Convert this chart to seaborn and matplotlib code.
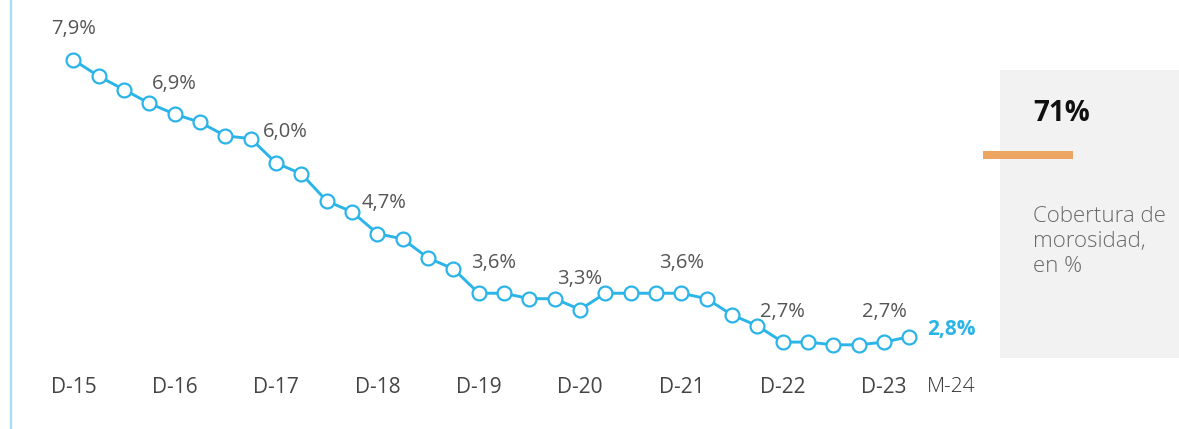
import matplotlib
matplotlib.use("Agg")
import matplotlib.pyplot as plt
import matplotlib.transforms as mtransforms
from matplotlib.patches import Rectangle
from matplotlib.lines import Line2D
import seaborn as sns
import pandas as pd

# ---------------------------------------------------------------------------
# Data: ratio de morosidad (%), quarterly D-15 .. M-24
# ---------------------------------------------------------------------------
quarters = [
    "D-15", "M-16", "J-16", "S-16", "D-16", "M-17", "J-17", "S-17",
    "D-17", "M-18", "J-18", "S-18", "D-18", "M-19", "J-19", "S-19",
    "D-19", "M-20", "J-20", "S-20", "D-20", "M-21", "J-21", "S-21",
    "D-21", "M-22", "J-22", "S-22", "D-22", "M-23", "J-23", "S-23",
    "D-23", "M-24",
]
npl_ratio = [
    7.9, 7.6, 7.35, 7.1, 6.9, 6.75, 6.5, 6.45,
    6.0, 5.8, 5.3, 5.1, 4.7, 4.6, 4.25, 4.05,
    3.6, 3.6, 3.5, 3.5, 3.3, 3.6, 3.6, 3.6,
    3.6, 3.5, 3.2, 3.0, 2.7, 2.7, 2.65, 2.65,
    2.7, 2.8,
]
tick_labels = ["D-15", "D-16", "D-17", "D-18", "D-19", "D-20", "D-21", "D-22", "D-23", "M-24"]
coverage_value = "71%"
coverage_text = "Cobertura de\nmorosidad,\nen %"

BLUE = "#2BB4E8"
GREY_TXT = "#555555"


def fmt_pct(v):
    return f"{v:.1f}".replace(".", ",") + "%"


df = pd.DataFrame({"quarter": quarters, "ratio": npl_ratio})
df["pos"] = range(len(df))

sns.set_style("white")
plt.rcParams["font.family"] = ["Open Sans", "DejaVu Sans"]

W, H = 1179, 429
fig = plt.figure(figsize=(W / 100, H / 100), dpi=100)
# axes placed in pixel space: x 40..1000, y 10..360
ax = fig.add_axes([40 / W, 1 - 360 / H, 960 / W, 350 / H])

sns.lineplot(
    data=df, x="pos", y="ratio", ax=ax, color=BLUE, linewidth=2.1,
    marker="o", markersize=10, markerfacecolor="white",
    markeredgecolor=BLUE, markeredgewidth=1.6,
)

ax.set_xlim(-1.32, 36.58)
ax.set_ylim(2.37, 8.82)
for s in ax.spines.values():
    s.set_visible(False)
ax.set_yticks([])
ax.set_xlabel("")
ax.set_ylabel("")

tick_pos = [quarters.index(q) for q in tick_labels]
ax.set_xticks(tick_pos)
ax.set_xticklabels(tick_labels, fontsize=15, color="#444444")
ax.tick_params(axis="x", length=0, pad=12)
last = ax.get_xticklabels()[-1]
last.set_transform(last.get_transform() + mtransforms.ScaledTranslation(30 / 72, 0, fig.dpi_scale_trans))
last.set_fontweight("light")
last.set_color("#333333")

# value labels at each December, plus the latest point
label_dx = {"D-17": 7, "D-18": 5, "D-19": 11}
for q in tick_labels[:-1]:
    i = quarters.index(q)
    v = npl_ratio[i]
    ax.annotate(fmt_pct(v), (i, v),
                xytext=(label_dx.get(q, 0), 22), textcoords="offset points",
                ha="center", va="center", fontsize=14.5, color=GREY_TXT)
ax.annotate(fmt_pct(npl_ratio[-1]), (len(quarters) - 1, npl_ratio[-1]),
            xytext=(13, 5), textcoords="offset points",
            ha="left", va="center", fontsize=15, color=BLUE, fontweight="bold")

# left rule
fig.add_artist(Line2D([11 / W, 11 / W], [0, 1], color="#A6DDF3", linewidth=1.6))

# coverage box on the right
fig.add_artist(Rectangle((1000 / W, 1 - 358 / H), 179 / W, 288 / H,
                         transform=fig.transFigure, facecolor="#F2F2F2", edgecolor="none"))
fig.add_artist(Rectangle((983 / W, 1 - 159 / H), 90 / W, 8 / H,
                         transform=fig.transFigure, facecolor="#EDA661", edgecolor="none"))
fig.text(1033 / W, 1 - 113 / H, coverage_value, fontsize=20, fontweight="bold",
         color="#111111", ha="left", va="center")
fig.text(1033 / W, 1 - 242 / H, coverage_text, fontsize=16, fontweight="light",
         color="#6A6A6A", ha="left", va="center", linespacing=1.25)

fig.savefig("out.png", dpi=100)
